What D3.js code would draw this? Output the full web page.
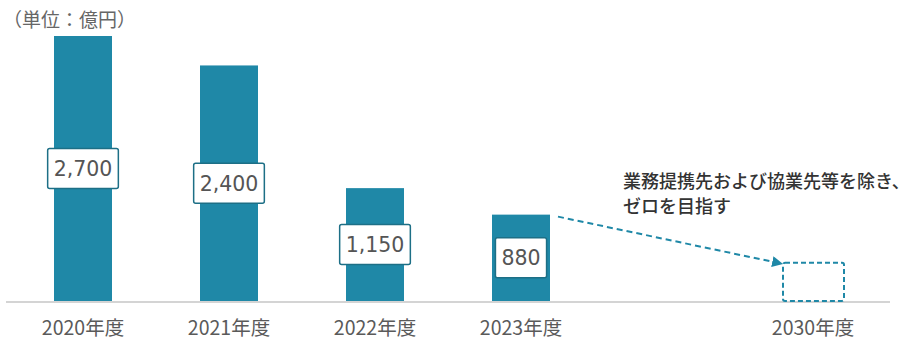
<!DOCTYPE html>
<html>
<head>
<meta charset="utf-8">
<script src="https://cdn.jsdelivr.net/npm/d3@7"></script>
<style>
  body { margin: 0; background: #fff; }
  text { font-family: "Noto Sans CJK JP", "Noto Sans", sans-serif; }
</style>
</head>
<body>
<div id="chart"></div>
<script>
var w = 912,
    h = 342;

// data
var categories = ["2020年度", "2021年度", "2022年度", "2023年度", "2030年度"];
var slots = [0, 1, 2, 3, 5];           // 2030 sits one slot further right
var values = [2700, 2400, 1150, 880, 0];
var valueLabels = ["2,700", "2,400", "1,150", "880", ""];
var targetBoxValue = 390;              // height of the dashed "zero" placeholder
var unitLabel = "（単位：億円）";
var noteLines = ["業務提携先および協業先等を除き、", "ゼロを目指す"];

var barColor = "#1f88a7",
    boxStroke = "#1d6f86",
    barW = 58;

var x = d3.scaleLinear().domain([0, 5]).range([83, 813]);
var y = d3.scaleLinear().domain([0, 2700]).range([301, 36]);

var svg = d3.select("#chart").append("svg")
    .attr("width", w)
    .attr("height", h);

svg.append("defs").append("marker")
    .attr("id", "arrow")
    .attr("viewBox", "0 0 10 10")
    .attr("refX", 9).attr("refY", 5)
    .attr("markerWidth", 5.5).attr("markerHeight", 5.5)
    .attr("orient", "auto")
  .append("path")
    .attr("d", "M0,0L10,5L0,10z")
    .attr("fill", barColor);

// unit label
svg.append("text")
    .attr("x", 3).attr("y", 27)
    .attr("font-size", 19)
    .attr("fill", "#666")
    .text(unitLabel);

// baseline
svg.append("line")
    .attr("x1", 6).attr("x2", 890)
    .attr("y1", y(0) + 1).attr("y2", y(0) + 1)
    .attr("stroke", "#d4d4d4")
    .attr("stroke-width", 2);

var data = categories.map(function(c, i) {
  return { cat: c, slot: slots[i], value: values[i], label: valueLabels[i] };
});
var real = data.filter(function(d) { return d.value > 0; });

svg.selectAll("rect.bar")
    .data(real)
  .enter().append("rect")
    .attr("class", "bar")
    .attr("x", function(d) { return x(d.slot) - barW / 2; })
    .attr("y", function(d) { return y(d.value); })
    .attr("width", barW)
    .attr("height", function(d) { return y(0) - y(d.value); })
    .attr("fill", barColor);

// value boxes
var lab = svg.selectAll("g.lab")
    .data(real)
  .enter().append("g")
    .attr("class", "lab")
    .attr("transform", function(d) {
      return "translate(" + x(d.slot) + "," + (y(d.value) + y(0)) / 2 + ")";
    });

lab.each(function(d) {
  var g = d3.select(this);
  var t = g.append("text")
      .attr("text-anchor", "middle")
      .attr("dy", "0.36em")
      .attr("font-size", 20.5)
      .attr("fill", "#555")
      .style("font-family", "'DejaVu Sans', Verdana, sans-serif")
      .text(d.label);
  var bw = t.node().getBBox().width + 12;
  g.insert("rect", "text")
      .attr("x", -bw / 2).attr("y", -20)
      .attr("width", bw).attr("height", 40)
      .attr("rx", 2)
      .attr("fill", "#fff")
      .attr("stroke", boxStroke)
      .attr("stroke-width", 1.5);
});

// 2030 dashed placeholder
var last = data[4];
svg.append("rect")
    .attr("x", x(last.slot) - 30)
    .attr("y", y(targetBoxValue))
    .attr("width", 61)
    .attr("height", y(0) - y(targetBoxValue))
    .attr("rx", 2)
    .attr("fill", "none")
    .attr("stroke", barColor)
    .attr("stroke-width", 2)
    .attr("stroke-dasharray", "5,3");

// dashed arrow
svg.append("line")
    .attr("x1", x(3) + barW / 2 + 8)
    .attr("y1", y(880) + 2)
    .attr("x2", x(5) - 31)
    .attr("y2", y(targetBoxValue) + 1)
    .attr("stroke", barColor)
    .attr("stroke-width", 2)
    .attr("stroke-dasharray", "6,4")
    .attr("marker-end", "url(#arrow)");

// note
svg.append("g")
    .selectAll("text")
    .data(noteLines)
  .enter().append("text")
    .attr("x", 623)
    .attr("y", function(d, i) { return 188 + i * 25; })
    .attr("font-size", 18)
    .attr("font-weight", 500)
    .attr("fill", "#333")
    .text(function(d) { return d; });

// category labels
svg.selectAll("text.cat")
    .data(data)
  .enter().append("text")
    .attr("class", "cat")
    .attr("x", function(d) { return x(d.slot); })
    .attr("y", 335)
    .attr("text-anchor", "middle")
    .attr("font-size", 19.5)
    .attr("fill", "#5a5a5a")
    .text(function(d) { return d.cat; });
</script>
</body>
</html>
